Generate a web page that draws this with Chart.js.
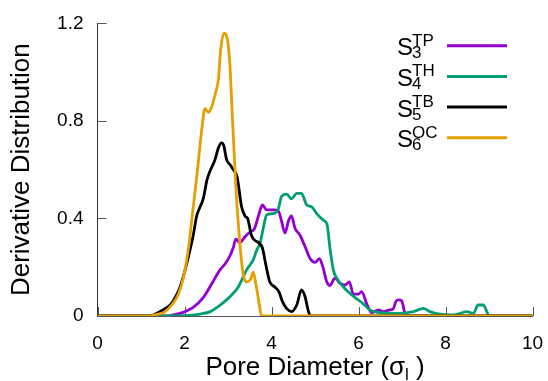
<!DOCTYPE html>
<html>
<head>
<meta charset="utf-8">
<script src="https://cdn.jsdelivr.net/npm/chart.js@4.4.1/dist/chart.umd.min.js"></script>
<style>
  html, body { margin: 0; padding: 0; background: #fff; }
  #wrap { width: 548px; height: 381px; }
</style>
</head>
<body>
<div id="wrap"><canvas id="myChart"></canvas></div>
<script>
// tick labels
const xTickLabels = ['0', '2', '4', '6', '8', '10'];
const yTickLabels = ['0', '0.4', '0.8', '1.2'];

// legend text: S with subscript and superscript
const seriesBase = ['S', 'S', 'S', 'S'];
const seriesSub = ['3', '4', '5', '6'];
const seriesSup = ['TP', 'TH', 'TB', 'OC'];

// S3 TP
const tpX = [0, 1.5, 1.75, 1.97, 2.2, 2.43, 2.62, 2.82, 2.94, 3.04, 3.12, 3.18, 3.27, 3.39, 3.51, 3.6, 3.7, 3.79, 3.89, 4.04, 4.16, 4.23, 4.31, 4.39, 4.46, 4.54, 4.66, 4.77, 4.89, 5.0, 5.1, 5.19, 5.27, 5.34, 5.46, 5.57, 5.69, 5.79, 5.88, 6.0, 6.07, 6.19, 6.3, 6.46, 6.57, 6.72, 6.8, 6.86, 6.92, 6.99, 7.07, 7.15, 10];
const tpY = [0, 0, 0.005, 0.015, 0.035, 0.075, 0.13, 0.19, 0.215, 0.245, 0.28, 0.315, 0.30, 0.325, 0.345, 0.355, 0.41, 0.455, 0.435, 0.435, 0.43, 0.39, 0.34, 0.39, 0.41, 0.36, 0.33, 0.285, 0.235, 0.22, 0.235, 0.195, 0.14, 0.125, 0.155, 0.135, 0.127, 0.14, 0.09, 0.09, 0.10, 0.05, 0.014, 0.025, 0.018, 0.025, 0.03, 0.06, 0.066, 0.063, 0.01, 0, 0];

// S4 TH
const thX = [0, 1.8, 2.1, 2.36, 2.59, 2.82, 3.05, 3.24, 3.43, 3.58, 3.66, 3.74, 3.81, 3.89, 4.04, 4.16, 4.23, 4.35, 4.46, 4.58, 4.69, 4.81, 4.92, 5.04, 5.19, 5.28, 5.34, 5.42, 5.5, 5.65, 5.8, 5.96, 6.11, 6.26, 6.49, 6.95, 7.26, 7.49, 7.64, 7.87, 8.2, 8.49, 8.64, 8.75, 8.87, 8.95, 9.0, 10];
const thY = [0, 0, 0.002, 0.008, 0.018, 0.045, 0.08, 0.12, 0.19, 0.23, 0.27, 0.30, 0.36, 0.415, 0.42, 0.44, 0.49, 0.50, 0.48, 0.503, 0.503, 0.455, 0.448, 0.42, 0.393, 0.373, 0.284, 0.19, 0.155, 0.12, 0.093, 0.07, 0.05, 0.025, 0.014, 0.011, 0.018, 0.031, 0.018, 0.008, 0.005, 0.018, 0.011, 0.045, 0.045, 0.018, 0, 0];

// S5 TB
const tbX = [0, 1.2, 1.45, 1.67, 1.8, 1.9, 2.0, 2.1, 2.2, 2.28, 2.34, 2.43, 2.52, 2.6, 2.7, 2.78, 2.85, 2.9, 2.97, 3.05, 3.12, 3.21, 3.31, 3.39, 3.45, 3.54, 3.62, 3.71, 3.79, 3.87, 3.96, 4.07, 4.17, 4.25, 4.35, 4.46, 4.58, 4.69, 4.77, 4.85, 4.9, 10];
const tbY = [0, 0, 0.02, 0.045, 0.08, 0.12, 0.18, 0.25, 0.33, 0.41, 0.44, 0.48, 0.56, 0.60, 0.64, 0.69, 0.71, 0.70, 0.64, 0.62, 0.60, 0.57, 0.45, 0.41, 0.40, 0.33, 0.31, 0.30, 0.28, 0.21, 0.14, 0.12, 0.10, 0.06, 0.03, 0.018, 0.045, 0.107, 0.08, 0.018, 0, 0];

// S6 OC
const ocX = [0, 1.2, 1.37, 1.54, 1.70, 1.86, 1.99, 2.10, 2.19, 2.30, 2.40, 2.47, 2.55, 2.63, 2.72, 2.78, 2.83, 2.91, 2.98, 3.04, 3.1, 3.18, 3.26, 3.35, 3.44, 3.52, 3.58, 3.64, 3.70, 3.77, 10];
const ocY = [0, 0, 0.007, 0.016, 0.044, 0.09, 0.17, 0.29, 0.43, 0.60, 0.77, 0.85, 0.835, 0.86, 0.92, 0.97, 1.09, 1.16, 1.14, 1.04, 0.82, 0.53, 0.325, 0.17, 0.14, 0.15, 0.18, 0.13, 0.07, 0, 0];

const family = '"Liberation Sans", Arial, sans-serif';
Chart.defaults.font.family = family;
Chart.defaults.color = '#000';

function pts(xs, ys) {
    return xs.map((x, i) => ({x: x, y: ys[i]}));
}

function series(label, xs, ys, color, order) {
    return {
        label: label,
        data: pts(xs, ys),
        borderColor: color,
        backgroundColor: color,
        borderWidth: 2.8,
        pointRadius: 0,
        fill: false,
        cubicInterpolationMode: 'monotone',
        order: order
    };
}

// no extra room for overhanging tick labels, the layout padding handles it
function noPad(s) {
    s.paddingTop = 0;
    s.paddingBottom = 0;
    s.paddingLeft = 0;
    s.paddingRight = 0;
}

const decorations = {
    id: 'decorations',
    beforeDatasetsDraw(chart) {
        const {ctx, chartArea: a, scales: {x, y}} = chart;
        ctx.save();
        ctx.strokeStyle = '#555';
        ctx.lineWidth = 1;
        ctx.beginPath();
        x.ticks.forEach(t => {
            const px = Math.round(x.getPixelForValue(t.value)) + 0.5;
            ctx.moveTo(px, a.bottom);
            ctx.lineTo(px, a.bottom - 9);
        });
        y.ticks.forEach(t => {
            const py = Math.round(y.getPixelForValue(t.value)) + 0.5;
            ctx.moveTo(a.left, py);
            ctx.lineTo(a.left + 9, py);
        });
        ctx.stroke();
        ctx.restore();
    },
    afterDraw(chart) {
        const {ctx, chartArea: a} = chart;
        ctx.save();
        ctx.fillStyle = '#000';
        ctx.textAlign = 'left';
        ctx.textBaseline = 'alphabetic';

        // x axis title with subscript l
        const p1 = 'Pore Diameter (\u03c3', p2 = 'l', p3 = ' )';
        ctx.font = '26px ' + family;
        const w1 = ctx.measureText(p1).width, w3 = ctx.measureText(p3).width;
        ctx.font = '17px ' + family;
        const w2 = ctx.measureText(p2).width;
        let tx = (a.left + a.right) / 2 - (w1 + w2 + w3) / 2;
        const base = 375;
        ctx.font = '26px ' + family;
        ctx.fillText(p1, tx, base);
        tx += w1;
        ctx.font = '17px ' + family;
        ctx.fillText(p2, tx, base + 5);
        tx += w2;
        ctx.font = '26px ' + family;
        ctx.fillText(p3, tx, base);

        // legend
        chart.data.datasets.forEach((ds, i) => {
            const ly = 45.7 + i * 30.7;
            ctx.fillStyle = '#000';
            ctx.font = '24px ' + family;
            ctx.fillText(seriesBase[i], 397, ly + 9.5);
            ctx.font = '17px ' + family;
            ctx.fillText(seriesSup[i], 412, ly);
            ctx.fillText(seriesSub[i], 412, ly + 12.5);
            ctx.strokeStyle = ds.borderColor;
            ctx.lineWidth = 3;
            ctx.beginPath();
            ctx.moveTo(447, ly);
            ctx.lineTo(507, ly);
            ctx.stroke();
        });
        ctx.restore();
    }
};

const data = {datasets: [
    series('S3 TP', tpX, tpY, '#9400d3', 4),
    series('S4 TH', thX, thY, '#009e73', 3),
    series('S5 TB', tbX, tbY, '#000000', 2),
    series('S6 OC', ocX, ocY, '#e69f00', 1)
]};

const options = {
    responsive: true,
    maintainAspectRatio: false,
    animation: false,
    devicePixelRatio: 1,
    layout: {padding: {left: 0, right: 15.5, top: 23.3, bottom: 0}},
    plugins: {legend: {display: false}, tooltip: {enabled: false}},
    scales: {
        x: {
            type: 'linear',
            min: 0,
            max: 10,
            grid: {display: false, drawTicks: false},
            border: {display: true, color: '#555', width: 1},
            ticks: {
                stepSize: 2,
                padding: 16,
                font: {size: 19},
                maxRotation: 0,
                callback: (v, i) => xTickLabels[i]
            },
            afterFit: s => { s.height = 65; noPad(s); }
        },
        y: {
            type: 'linear',
            min: 0,
            max: 1.2,
            grid: {display: false, drawTicks: false},
            border: {display: true, color: '#333', width: 1},
            ticks: {
                stepSize: 0.4,
                padding: 14,
                font: {size: 19},
                callback: (v, i) => yTickLabels[i]
            },
            title: {
                display: true,
                text: 'Derivative Distribution',
                font: {size: 26},
                padding: {top: 6, bottom: 0}
            },
            afterFit: s => { s.width = 97.5; noPad(s); }
        }
    }
};

const myChart = new Chart(document.getElementById('myChart'), {
    type: 'line',
    data: data,
    options: options,
    plugins: [decorations]
});
</script>
</body>
</html>
